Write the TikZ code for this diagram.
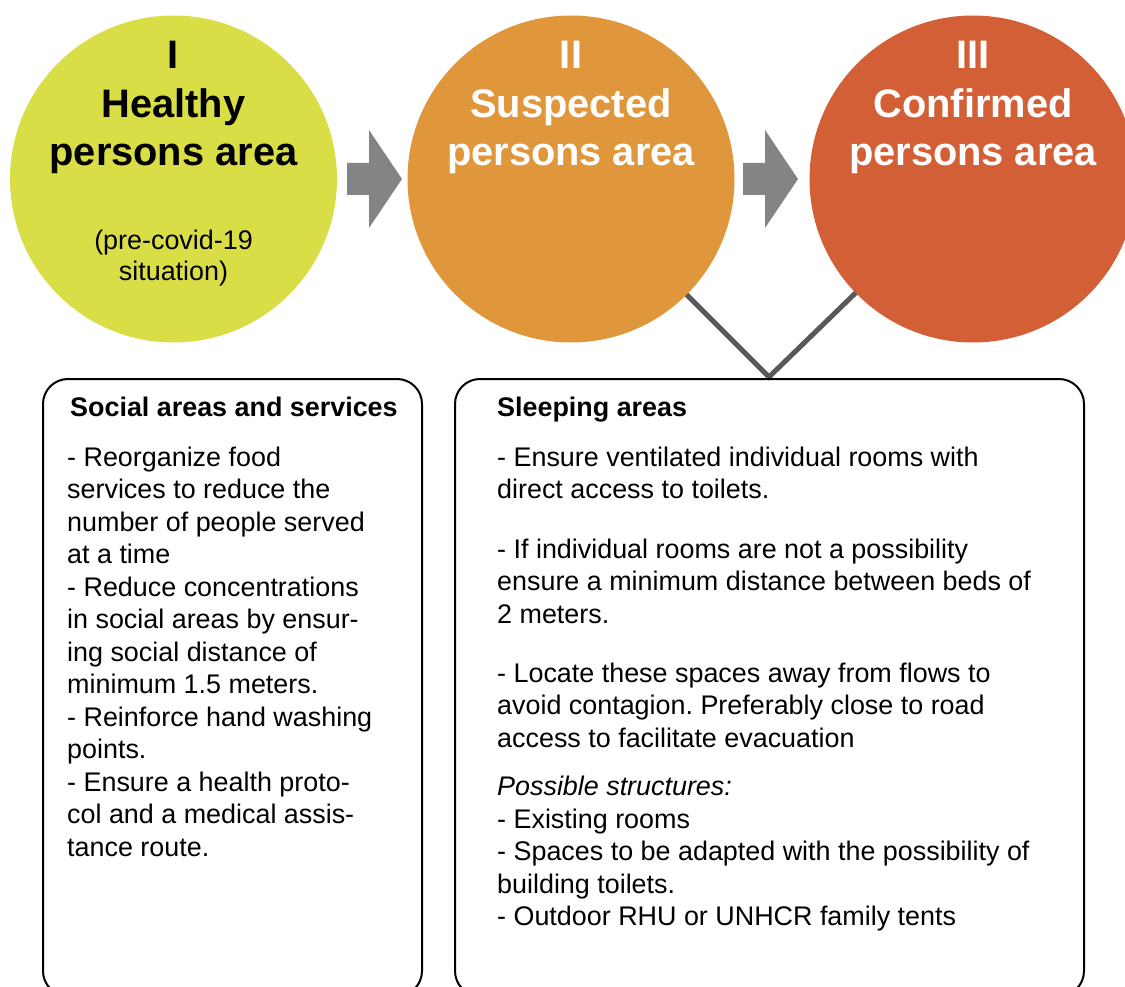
\documentclass[tikz,border=0pt]{standalone}
\usepackage{fontspec}
\setmainfont{Liberation Sans}
\usetikzlibrary{backgrounds}
\definecolor{cyel}{HTML}{D9DE46}
\definecolor{corg}{HTML}{E0963A}
\definecolor{cred}{HTML}{D35F36}
\definecolor{agray}{HTML}{838486}
\definecolor{vgray}{HTML}{58595B}
\newcommand\bodyfnt{\fontsize{26.9}{32.5}\selectfont}
\newcommand\headfnt{\fontsize{39.8}{48.5}\selectfont\bfseries}
\frenchspacing
\begin{document}
\begin{tikzpicture}[x=1pt,y=-1pt,
  area/.style={circle, inner sep=0pt, minimum size=327pt},
  head/.style={anchor=base, inner sep=0pt, font=\headfnt},
  sub/.style={anchor=base, inner sep=0pt, font=\bodyfnt},
  body/.style={anchor=base west, inner sep=0pt, font=\bodyfnt},
  btitle/.style={anchor=base west, inner sep=0pt, font=\bodyfnt\bfseries},
  panel/.style={draw=black, line width=2pt, rounded corners=25pt, anchor=north west, inner sep=0pt},
  flow/.style={fill=agray},
  link/.style={draw=vgray, line width=5pt}]
\useasboundingbox (0,0) rectangle (1125,987);
\clip (0,0) rectangle (1125,987);

% circles
\node[area, fill=cyel] (c1) at (173.5,179) {};
\node[area, fill=corg] (c2) at (571,179) {};
\node[area, fill=cred] (c3) at (973,179) {};

% circle texts
\node[head] (t1a) at (173.5,69) {I};
\node[head] (t1b) at (173.5,117.5) {Healthy};
\node[head] (t1c) at (173.5,166) {persons area};
\node[sub] (t1d) at (173.5,250) {(pre-covid-19};
\node[sub] (t1e) at (173.5,280) {situation)};
\node[head, text=white] (t2a) at (571,69) {II};
\node[head, text=white] (t2b) at (571,117.5) {Suspected};
\node[head, text=white] (t2c) at (571,166) {persons area};
\node[head, text=white] (t3a) at (973,69) {III};
\node[head, text=white] (t3b) at (973,117.5) {Confirmed};
\node[head, text=white] (t3c) at (973,166) {persons area};

% arrows
\fill[flow] (347,163) -- (369,163) -- (369,130) -- (402,179) -- (369,228) -- (369,195) -- (347,195) -- cycle;
\fill[flow, shift={(396,0)}] (347,163) -- (369,163) -- (369,130) -- (402,179) -- (369,228) -- (369,195) -- (347,195) -- cycle;

% connector (behind the circles)
\coordinate (v) at (769,377);
\begin{pgfonlayer}{background}
\fill[white] (0,0) rectangle (1125,987);
\draw[link] (c2.center) -- (v) -- (c3.center);
\end{pgfonlayer}

% panels
\node[panel, minimum width=379pt, minimum height=617pt] (p1) at (42,378) {};
\node[panel, minimum width=629pt, minimum height=617pt] (p2) at (454,378) {};

% left panel text
\node[btitle] (h1) at (70,416) {Social areas and services};
\foreach \s [count=\i from 0] in {
  {- Reorganize food},
  {services to reduce the},
  {number of people served},
  {at a time},
  {- Reduce concentrations},
  {in social areas by ensur-},
  {ing social distance of},
  {minimum 1.5 meters.},
  {- Reinforce hand washing},
  {points.},
  {- Ensure a health proto-},
  {col and a medical assis-},
  {tance route.}}
  \node[body] (L\i) at (67,466+32.5*\i) {\s};

% right panel text
\node[btitle] (h2) at (497,416) {Sleeping areas};
\foreach \yy/\s [count=\i] in {
  466/{- Ensure ventilated individual rooms with},
  498.5/{direct access to toilets.},
  558/{- If individual rooms are not a possibility},
  590.5/{ensure a minimum distance between beds of},
  623/{2 meters.},
  682/{- Locate these spaces away from flows to},
  714.5/{avoid contagion. Preferably close to road},
  747/{access to facilitate evacuation},
  828/{- Existing rooms},
  860.5/{- Spaces to be adapted with the possibility of},
  893/{building toilets.},
  925.5/{- Outdoor RHU or UNHCR family tents}}
  \node[body] (R\i) at (497,\yy) {\s};
\node[body, font=\bodyfnt\itshape] (Rps) at (497,795.5) {Possible structures:};
\end{tikzpicture}
\end{document}
